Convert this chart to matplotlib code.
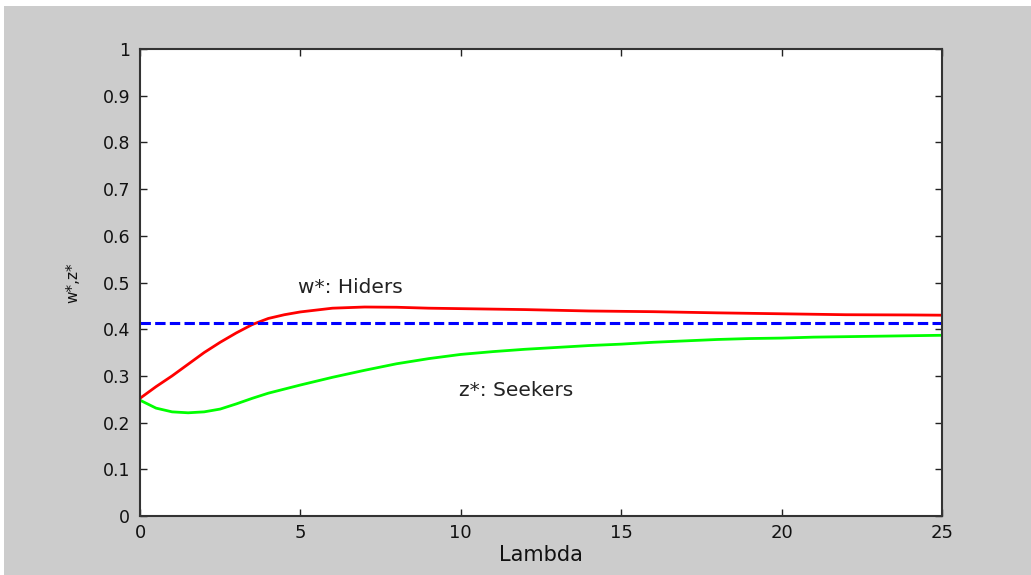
import matplotlib
matplotlib.use("Agg")
import matplotlib.pyplot as plt
from matplotlib.patches import Rectangle

# Data
lam_w = [0, 0.5, 1, 1.5, 2, 2.5, 3, 3.5, 4, 4.5, 5, 6, 7, 8, 9, 10, 12, 14, 16, 18, 20, 22, 24, 25]
w_star = [0.252, 0.277, 0.300, 0.325, 0.350, 0.372, 0.392, 0.410, 0.423, 0.431, 0.437, 0.445, 0.4475, 0.447,
          0.445, 0.444, 0.442, 0.439, 0.4375, 0.435, 0.433, 0.431, 0.4305, 0.430]

lam_z = [0, 0.5, 1, 1.5, 2, 2.5, 3, 3.5, 4, 5, 6, 7, 8, 9, 10, 11, 12, 13, 14, 15, 16, 17, 18, 19, 20, 21,
         22, 23, 24, 25]
z_star = [0.248, 0.231, 0.223, 0.221, 0.223, 0.229, 0.240, 0.252, 0.263, 0.2805, 0.297, 0.312, 0.326, 0.337,
          0.346, 0.352, 0.357, 0.361, 0.365, 0.368, 0.372, 0.375, 0.378, 0.380, 0.381, 0.383, 0.384, 0.385,
          0.386, 0.387]

threshold = 0.413

x_ticks = [0, 5, 10, 15, 20, 25]
y_ticks = [0, 0.1, 0.2, 0.3, 0.4, 0.5, 0.6, 0.7, 0.8, 0.9, 1]
y_tick_labels = ["0", "0.1", "0.2", "0.3", "0.4", "0.5", "0.6", "0.7", "0.8", "0.9", "1"]

plt.rcParams['font.family'] = ['DejaVu Sans']

fig = plt.figure(figsize=(10.31, 5.75), dpi=100, facecolor='white')
W, H = 1031, 575
fig.patches.append(Rectangle((4 / W, 0), 1 - 4 / W, 1 - 6 / H, transform=fig.transFigure,
                             facecolor='#cccccc', edgecolor='none', zorder=-10))

ax = fig.add_axes([140 / W, 1 - 516 / H, (942 - 140) / W, (516 - 49) / H])
ax.set_facecolor('white')

ax.plot(lam_w, w_star, color='#ff0000', lw=2.0)
ax.plot(lam_z, z_star, color='#00ff00', lw=2.0)
ax.axhline(threshold, color='#0000ff', lw=2.2, dashes=(3.4, 1.4))

ax.text(4.93, 0.49, "w*: Hiders", fontsize=14.5, color='#222222', va='center', ha='left')
ax.text(9.94, 0.268, "z*: Seekers", fontsize=14.5, color='#222222', va='center', ha='left')

ax.set_xlim(0, 25)
ax.set_ylim(0, 1)
ax.set_xticks(x_ticks)
ax.set_xticklabels([str(t) for t in x_ticks])
ax.set_yticks(y_ticks)
ax.set_yticklabels(y_tick_labels)
ax.tick_params(direction='in', length=5, width=1.0, colors='#222222',
               top=True, right=True)
ax.tick_params(axis='x', pad=6, labelsize=13)
ax.tick_params(axis='y', pad=7, labelsize=12.5)
for lbl in ax.get_xticklabels() + ax.get_yticklabels():
    lbl.set_color('#111111')

for s in ax.spines.values():
    s.set_linewidth(1.5)
    s.set_color('#333333')

ax.set_xlabel("Lambda", fontsize=15, color='#111111')
ax.xaxis.set_label_coords(0.5, (516 - 545) / 467)
ax.set_ylabel("w*,z*", fontsize=11, color='#111111')
ax.yaxis.set_label_coords((80 - 140) / 802, 0.5)

fig.savefig("out.png", dpi=100, facecolor=fig.get_facecolor())
